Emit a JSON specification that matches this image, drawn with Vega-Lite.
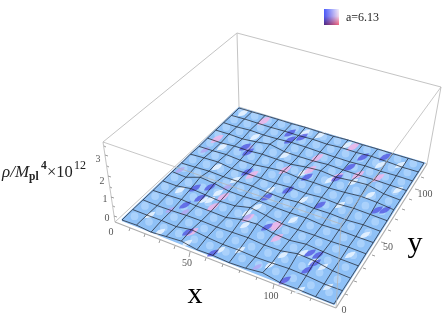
{
"$schema":"https://vega.github.io/schema/vega-lite/v6.json",
"width":443,"height":317,"padding":0,"autosize":"none","background":"white",
"config":{"view":{"stroke":null}},
"datasets":{
"frameBack":[{"u":115,"v":222,"u2":103,"v2":142},{"u":239,"v":107,"u2":237,"v2":33},{"u":427,"v":164,"u2":441,"v2":87},{"u":103,"v":142,"u2":237,"v2":33},{"u":237,"v":33,"u2":441,"v2":87},{"u":115,"v":222,"u2":239,"v2":107},{"u":239,"v":107,"u2":427,"v2":164}],
"frameFloor":[{"u":115,"v":222,"u2":336,"v2":308},{"u":336,"v":308,"u2":427,"v2":164}],
"frameFront":[{"u":103,"v":142,"u2":341,"v2":224},{"u":441,"v":87,"u2":341,"v2":224},{"u":341,"v":224,"u2":336,"v2":308}],
"ticks":[{"u":130,"v":228,"u2":129,"v2":231},{"u":145,"v":234,"u2":144,"v2":237},{"u":160,"v":240,"u2":159,"v2":243},{"u":175,"v":246,"u2":174,"v2":249},{"u":190,"v":252,"u2":189,"v2":257},{"u":206,"v":258,"u2":205,"v2":261},{"u":223,"v":264,"u2":222,"v2":267},{"u":240,"v":270,"u2":239,"v2":273},{"u":257,"v":277,"u2":256,"v2":280},{"u":274,"v":284,"u2":273,"v2":289},{"u":292,"v":291,"u2":291,"v2":294},{"u":311,"v":298,"u2":310,"v2":301},
{"u":345,"v":294,"u2":348,"v2":295},{"u":354,"v":281,"u2":357,"v2":282},{"u":363,"v":268,"u2":366,"v2":269},{"u":372,"v":255,"u2":375,"v2":256},{"u":381,"v":242,"u2":385,"v2":243},{"u":388,"v":230,"u2":391,"v2":231},{"u":395,"v":219,"u2":398,"v2":220},{"u":402,"v":209,"u2":405,"v2":210},{"u":409,"v":199,"u2":412,"v2":200},{"u":415,"v":189,"u2":419,"v2":190},{"u":421,"v":177,"u2":424,"v2":178},
{"u":114,"v":216,"u2":117,"v2":217},{"u":113,"v":206,"u2":115,"v2":207},{"u":111,"v":197,"u2":114,"v2":198},{"u":110,"v":187,"u2":112,"v2":188},{"u":108,"v":176,"u2":111,"v2":177},{"u":107,"v":166,"u2":109,"v2":167},{"u":105,"v":155,"u2":108,"v2":156},{"u":104,"v":146,"u2":106,"v2":147}],
"nodes":[
{"x":0,"y":0,"r":0.3},{"x":0,"y":10,"r":0.31},{"x":0,"y":20,"r":0.3},{"x":0,"y":30,"r":0.29},{"x":0,"y":40,"r":0.3},{"x":0,"y":50,"r":0.31},{"x":0,"y":60,"r":0.3},{"x":0,"y":70,"r":0.32},{"x":0,"y":80,"r":0.29},{"x":0,"y":90,"r":0.3},{"x":0,"y":100,"r":0.31},{"x":0,"y":110,"r":0.3},{"x":0,"y":120,"r":0.29},{"x":0,"y":130,"r":0.3},
{"x":10,"y":0,"r":0.33},{"x":10,"y":10,"r":0.31},{"x":10,"y":20,"r":0.28},{"x":10,"y":30,"r":0.32},{"x":10,"y":40,"r":0.3},{"x":10,"y":50,"r":0.27},{"x":10,"y":60,"r":0.33},{"x":10,"y":70,"r":0.36},{"x":10,"y":80,"r":0.3},{"x":10,"y":90,"r":0.28},{"x":10,"y":100,"r":0.32},{"x":10,"y":110,"r":0.29},{"x":10,"y":120,"r":0.31},{"x":10,"y":130,"r":0.3},
{"x":20,"y":0,"r":0.27},{"x":20,"y":10,"r":0.32},{"x":20,"y":20,"r":0.3},{"x":20,"y":30,"r":0.36},{"x":20,"y":40,"r":0.42},{"x":20,"y":50,"r":0.52},{"x":20,"y":60,"r":0.37},{"x":20,"y":70,"r":0.39},{"x":20,"y":80,"r":0.33},{"x":20,"y":90,"r":0.34},{"x":20,"y":100,"r":0.29},{"x":20,"y":110,"r":0.33},{"x":20,"y":120,"r":0.3},{"x":20,"y":130,"r":0.31},
{"x":30,"y":0,"r":0.35},{"x":30,"y":10,"r":0.3},{"x":30,"y":20,"r":0.34},{"x":30,"y":30,"r":0.31},{"x":30,"y":40,"r":0.37},{"x":30,"y":50,"r":0.46},{"x":30,"y":60,"r":0.34},{"x":30,"y":70,"r":0.3},{"x":30,"y":80,"r":0.28},{"x":30,"y":90,"r":0.33},{"x":30,"y":100,"r":0.36},{"x":30,"y":110,"r":0.3},{"x":30,"y":120,"r":0.29},{"x":30,"y":130,"r":0.31},
{"x":40,"y":0,"r":0.42},{"x":40,"y":10,"r":0.44},{"x":40,"y":20,"r":0.35},{"x":40,"y":30,"r":0.3},{"x":40,"y":40,"r":0.31},{"x":40,"y":50,"r":0.33},{"x":40,"y":60,"r":0.35},{"x":40,"y":70,"r":0.3},{"x":40,"y":80,"r":0.28},{"x":40,"y":90,"r":0.38},{"x":40,"y":100,"r":0.46},{"x":40,"y":110,"r":0.32},{"x":40,"y":120,"r":0.31},{"x":40,"y":130,"r":0.3},
{"x":50,"y":0,"r":0.3},{"x":50,"y":10,"r":0.36},{"x":50,"y":20,"r":0.33},{"x":50,"y":30,"r":0.28},{"x":50,"y":40,"r":0.35},{"x":50,"y":50,"r":0.32},{"x":50,"y":60,"r":0.37},{"x":50,"y":70,"r":0.3},{"x":50,"y":80,"r":0.37},{"x":50,"y":90,"r":0.36},{"x":50,"y":100,"r":0.32},{"x":50,"y":110,"r":0.36},{"x":50,"y":120,"r":0.3},{"x":50,"y":130,"r":0.32},
{"x":60,"y":0,"r":0.33},{"x":60,"y":10,"r":0.31},{"x":60,"y":20,"r":0.36},{"x":60,"y":30,"r":0.46},{"x":60,"y":40,"r":0.54},{"x":60,"y":50,"r":0.37},{"x":60,"y":60,"r":0.31},{"x":60,"y":70,"r":0.29},{"x":60,"y":80,"r":0.44},{"x":60,"y":90,"r":0.34},{"x":60,"y":100,"r":0.3},{"x":60,"y":110,"r":0.35},{"x":60,"y":120,"r":0.33},{"x":60,"y":130,"r":0.3},
{"x":70,"y":0,"r":0.29},{"x":70,"y":10,"r":0.33},{"x":70,"y":20,"r":0.39},{"x":70,"y":30,"r":0.52},{"x":70,"y":40,"r":0.43},{"x":70,"y":50,"r":0.33},{"x":70,"y":60,"r":0.28},{"x":70,"y":70,"r":0.34},{"x":70,"y":80,"r":0.36},{"x":70,"y":90,"r":0.44},{"x":70,"y":100,"r":0.31},{"x":70,"y":110,"r":0.32},{"x":70,"y":120,"r":0.3},{"x":70,"y":130,"r":0.29},
{"x":80,"y":0,"r":0.34},{"x":80,"y":10,"r":0.3},{"x":80,"y":20,"r":0.33},{"x":80,"y":30,"r":0.36},{"x":80,"y":40,"r":0.3},{"x":80,"y":50,"r":0.32},{"x":80,"y":60,"r":0.35},{"x":80,"y":70,"r":0.3},{"x":80,"y":80,"r":0.37},{"x":80,"y":90,"r":0.5},{"x":80,"y":100,"r":0.36},{"x":80,"y":110,"r":0.3},{"x":80,"y":120,"r":0.35},{"x":80,"y":130,"r":0.32},
{"x":90,"y":0,"r":0.45},{"x":90,"y":10,"r":0.33},{"x":90,"y":20,"r":0.35},{"x":90,"y":30,"r":0.31},{"x":90,"y":40,"r":0.29},{"x":90,"y":50,"r":0.35},{"x":90,"y":60,"r":0.31},{"x":90,"y":70,"r":0.36},{"x":90,"y":80,"r":0.35},{"x":90,"y":90,"r":0.42},{"x":90,"y":100,"r":0.33},{"x":90,"y":110,"r":0.29},{"x":90,"y":120,"r":0.33},{"x":90,"y":130,"r":0.3},
{"x":100,"y":0,"r":0.3},{"x":100,"y":10,"r":0.38},{"x":100,"y":20,"r":0.52},{"x":100,"y":30,"r":0.42},{"x":100,"y":40,"r":0.31},{"x":100,"y":50,"r":0.28},{"x":100,"y":60,"r":0.33},{"x":100,"y":70,"r":0.31},{"x":100,"y":80,"r":0.39},{"x":100,"y":90,"r":0.5},{"x":100,"y":100,"r":0.32},{"x":100,"y":110,"r":0.33},{"x":100,"y":120,"r":0.37},{"x":100,"y":130,"r":0.31},
{"x":110,"y":0,"r":0.32},{"x":110,"y":10,"r":0.36},{"x":110,"y":20,"r":0.48},{"x":110,"y":30,"r":0.36},{"x":110,"y":40,"r":0.3},{"x":110,"y":50,"r":0.32},{"x":110,"y":60,"r":0.29},{"x":110,"y":70,"r":0.36},{"x":110,"y":80,"r":0.46},{"x":110,"y":90,"r":0.55},{"x":110,"y":100,"r":0.33},{"x":110,"y":110,"r":0.3},{"x":110,"y":120,"r":0.34},{"x":110,"y":130,"r":0.3},
{"x":120,"y":0,"r":0.3},{"x":120,"y":10,"r":0.29},{"x":120,"y":20,"r":0.33},{"x":120,"y":30,"r":0.31},{"x":120,"y":40,"r":0.33},{"x":120,"y":50,"r":0.3},{"x":120,"y":60,"r":0.34},{"x":120,"y":70,"r":0.33},{"x":120,"y":80,"r":0.42},{"x":120,"y":90,"r":0.36},{"x":120,"y":100,"r":0.31},{"x":120,"y":110,"r":0.32},{"x":120,"y":120,"r":0.29},{"x":120,"y":130,"r":0.3},
{"x":130,"y":0,"r":0.3},{"x":130,"y":10,"r":0.31},{"x":130,"y":20,"r":0.3},{"x":130,"y":30,"r":0.3},{"x":130,"y":40,"r":0.31},{"x":130,"y":50,"r":0.3},{"x":130,"y":60,"r":0.31},{"x":130,"y":70,"r":0.3},{"x":130,"y":80,"r":0.33},{"x":130,"y":90,"r":0.31},{"x":130,"y":100,"r":0.3},{"x":130,"y":110,"r":0.31},{"x":130,"y":120,"r":0.3},{"x":130,"y":130,"r":0.3}],
"blobs":[
{"u":243,"v":113,"k":"w"},{"u":255,"v":137,"k":"w"},{"u":249,"v":148,"k":"l"},{"u":222,"v":147,"k":"w"},{"u":305,"v":133,"k":"w"},{"u":320,"v":135,"k":"w"},{"u":347,"v":145,"k":"w"},{"u":400,"v":165,"k":"w"},{"u":217,"v":167,"k":"w"},{"u":218,"v":193,"k":"w"},{"u":235,"v":180,"k":"w"},{"u":210,"v":200,"k":"w"},{"u":247,"v":213,"k":"w"},{"u":180,"v":190,"k":"w"},{"u":303,"v":173,"k":"w"},{"u":330,"v":180,"k":"w"},{"u":353,"v":182,"k":"w"},{"u":303,"v":200,"k":"w"},{"u":370,"v":195,"k":"w"},{"u":245,"v":225,"k":"w"},{"u":203,"v":200,"k":"w"},{"u":220,"v":250,"k":"w"},{"u":313,"v":262,"k":"w"},{"u":323,"v":267,"k":"w"},{"u":270,"v":265,"k":"w"},{"u":303,"v":253,"k":"w"},{"u":283,"v":255,"k":"w"},{"u":293,"v":220,"k":"w"},{"u":257,"v":207,"k":"w"},{"u":187,"v":243,"k":"w"},{"u":328,"v":287,"k":"w"},{"u":150,"v":215,"k":"w"},{"u":160,"v":232,"k":"w"},{"u":285,"v":155,"k":"w"},{"u":340,"v":205,"k":"w"},{"u":270,"v":190,"k":"w"},{"u":380,"v":165,"k":"w"},{"u":300,"v":290,"k":"w"},{"u":350,"v":255,"k":"w"},{"u":240,"v":250,"k":"w"},{"u":398,"v":190,"k":"w"},{"u":365,"v":235,"k":"w"},
{"u":264,"v":121,"k":"p"},{"u":217,"v":139,"k":"p"},{"u":205,"v":150,"k":"l"},{"u":252,"v":175,"k":"p"},{"u":180,"v":170,"k":"l"},{"u":223,"v":197,"k":"p"},{"u":227,"v":187,"k":"l"},{"u":248,"v":218,"k":"p"},{"u":275,"v":225,"k":"p"},{"u":170,"v":210,"k":"l"},{"u":185,"v":212,"k":"l"},{"u":317,"v":158,"k":"p"},{"u":310,"v":170,"k":"p"},{"u":285,"v":170,"k":"p"},{"u":337,"v":177,"k":"p"},{"u":358,"v":175,"k":"p"},{"u":378,"v":178,"k":"p"},{"u":353,"v":147,"k":"p"},{"u":192,"v":232,"k":"p"},{"u":277,"v":227,"k":"p"},{"u":277,"v":238,"k":"p"},{"u":247,"v":217,"k":"l"},{"u":213,"v":207,"k":"p"},{"u":283,"v":282,"k":"l"},{"u":257,"v":267,"k":"l"},
{"u":200,"v":198,"k":"d"},{"u":210,"v":187,"k":"d"},{"u":185,"v":205,"k":"d"},{"u":245,"v":147,"k":"d"},{"u":248,"v":152,"k":"d"},{"u":247,"v":172,"k":"d"},{"u":267,"v":197,"k":"d"},{"u":195,"v":188,"k":"d"},{"u":302,"v":137,"k":"d"},{"u":363,"v":157,"k":"d"},{"u":385,"v":210,"k":"d"},{"u":377,"v":210,"k":"d"},{"u":337,"v":178,"k":"d"},{"u":307,"v":177,"k":"d"},{"u":320,"v":205,"k":"d"},{"u":288,"v":190,"k":"d"},{"u":350,"v":167,"k":"d"},{"u":385,"v":157,"k":"d"},{"u":188,"v":232,"k":"d"},{"u":307,"v":270,"k":"d"},{"u":315,"v":263,"k":"d"},{"u":310,"v":253,"k":"d"},{"u":318,"v":255,"k":"d"},{"u":285,"v":280,"k":"d"},{"u":267,"v":227,"k":"d"},{"u":213,"v":253,"k":"d"},{"u":290,"v":133,"k":"d"},{"u":290,"v":140,"k":"d"}]
},
"encoding":{
"x":{"field":"u","type":"quantitative","scale":{"domain":[0,443],"nice":false,"zero":false},"axis":null},
"y":{"field":"v","type":"quantitative","scale":{"domain":[0,317],"reverse":true,"nice":false,"zero":false},"axis":null}
},
"layer":[
{"data":{"name":"frameBack"},"mark":{"type":"rule","stroke":"#c4c4c4","strokeWidth":1},"encoding":{"x2":{"field":"u2"},"y2":{"field":"v2"}}},
{"data":{"name":"frameFloor"},"mark":{"type":"rule","stroke":"#adadad","strokeWidth":1.2},"encoding":{"x2":{"field":"u2"},"y2":{"field":"v2"}}},
{"data":{"name":"ticks"},"mark":{"type":"rule","stroke":"#888888","strokeWidth":0.8},"encoding":{"x2":{"field":"u2"},"y2":{"field":"v2"}}},
{"data":{"values":[{"u":122,"v":220,"o":0},{"u":334,"v":304,"o":1},{"u":424,"v":163,"o":2},{"u":239,"v":108,"o":3},{"u":122,"v":220,"o":4}]},"mark":{"type":"line","fill":"#8fc1f7","stroke":"#8fc1f7"},"encoding":{"order":{"field":"o"}}},
{"data":{"name":"nodes"},"transform":[{"filter":"datum.x<130&&datum.y<130"},{"calculate":"(datum.x+5)/130","as":"s"},{"calculate":"(datum.y+5)/130","as":"t"},{"calculate":"1-0.12502*datum.s+0.20677*datum.t","as":"w"},{"calculate":"(170.24*datum.s+166.42*datum.t+122)/datum.w","as":"u"},{"calculate":"(45.99*datum.s-89.67*datum.t+220)/datum.w-1.5","as":"v"}],"mark":{"type":"point","filled":true,"shape":"circle","size":60,"color":"#bcdcfd","opacity":0.6,"strokeWidth":0}},
{"data":{"name":"blobs"},"mark":{"type":"point","filled":true,"shape":"M-1 .6Q-.6 -.6 1 -.6Q.6 .6 -1 .6Z","opacity":0.35,"strokeWidth":0},"encoding":{"color":{"field":"k","type":"nominal","legend":null,"scale":{"domain":["p","d","w","l"],"range":["#efb6e8","#5a62e4","#e8f4ff","#b3a8f2"]}},"size":{"field":"k","type":"nominal","legend":null,"scale":{"domain":["p","d","w","l"],"range":[170,90,150,130]}}}},
{"data":{"name":"blobs"},"mark":{"type":"point","filled":true,"shape":"M-1 .6Q-.6 -.6 1 -.6Q.6 .6 -1 .6Z","opacity":0.8,"strokeWidth":0},"encoding":{"color":{"field":"k","type":"nominal","legend":null,"scale":{"domain":["p","d","w","l"],"range":["#efb6e8","#4c55dc","#eef7ff","#b3a8f2"]}},"size":{"field":"k","type":"nominal","legend":null,"scale":{"domain":["p","d","w","l"],"range":[75,34,65,55]}}}},
{"data":{"name":"nodes"},"transform":[{"calculate":"datum.x/130","as":"s"},{"calculate":"datum.y/130","as":"t"},{"calculate":"1-0.12502*datum.s+0.20677*datum.t","as":"w"},{"calculate":"(170.24*datum.s+166.42*datum.t+122)/datum.w","as":"u"},{"calculate":"(45.99*datum.s-89.67*datum.t+220)/datum.w-20*(datum.r-0.3)","as":"v"}],"mark":{"type":"line","stroke":"#16161c","strokeWidth":0.8,"opacity":0.85},"encoding":{"detail":{"field":"x"},"order":{"field":"y"}}},
{"data":{"name":"nodes"},"transform":[{"calculate":"datum.x/130","as":"s"},{"calculate":"datum.y/130","as":"t"},{"calculate":"1-0.12502*datum.s+0.20677*datum.t","as":"w"},{"calculate":"(170.24*datum.s+166.42*datum.t+122)/datum.w","as":"u"},{"calculate":"(45.99*datum.s-89.67*datum.t+220)/datum.w-20*(datum.r-0.3)","as":"v"}],"mark":{"type":"line","stroke":"#16161c","strokeWidth":0.8,"opacity":0.85},"encoding":{"detail":{"field":"y"},"order":{"field":"x"}}},
{"data":{"name":"frameFront"},"mark":{"type":"rule","stroke":"#b4b4b4","strokeWidth":1,"opacity":0.75},"encoding":{"x2":{"field":"u2"},"y2":{"field":"v2"}}},
{"data":{"values":[{"t":"0","u":111,"v":232},{"t":"50","u":187,"v":263},{"t":"100","u":271,"v":296},{"t":"0","u":344,"v":310},{"t":"50","u":388,"v":247},{"t":"100","u":425,"v":194},{"t":"3","u":98,"v":159},{"t":"2","u":102,"v":181},{"t":"1","u":105,"v":199},{"t":"0","u":107,"v":218}]},"mark":{"type":"text","font":"Liberation Serif","fontSize":10,"color":"#555555","align":"center","baseline":"middle"},"encoding":{"text":{"field":"t"}}},
{"data":{"values":[{"t":"x","u":195,"v":303},{"t":"y","u":415,"v":252}]},"mark":{"type":"text","font":"Liberation Serif","fontSize":30,"color":"#000000","align":"center","baseline":"alphabetic"},"encoding":{"text":{"field":"t"}}},
{"data":{"values":[{"t":"ρ/M","u":2,"v":177}]},"mark":{"type":"text","font":"Liberation Serif","fontSize":17,"fontStyle":"italic","color":"#222222","align":"left","baseline":"alphabetic"},"encoding":{"text":{"field":"t"}}},
{"data":{"values":[{"t":"pl","u":29,"v":180},{"t":"4","u":41,"v":169}]},"mark":{"type":"text","font":"Liberation Serif","fontSize":11.5,"fontWeight":"bold","color":"#222222","align":"left","baseline":"alphabetic"},"encoding":{"text":{"field":"t"}}},
{"data":{"values":[{"t":"×10","u":47,"v":177}]},"mark":{"type":"text","font":"Liberation Serif","fontSize":16.5,"color":"#222222","align":"left","baseline":"alphabetic"},"encoding":{"text":{"field":"t"}}},
{"data":{"values":[{"t":"12","u":74,"v":169}]},"mark":{"type":"text","font":"Liberation Serif","fontSize":12,"color":"#222222","align":"left","baseline":"alphabetic"},"encoding":{"text":{"field":"t"}}},
{"data":{"values":[{"t":"a=6.13","u":346,"v":21}]},"mark":{"type":"text","font":"Liberation Serif","fontSize":12,"color":"#222222","align":"left","baseline":"alphabetic"},"encoding":{"text":{"field":"t"}}},
{"data":{"values":[{"u":324,"v":9,"u2":339,"v2":25}]},"mark":{"type":"rect","fill":{"gradient":"linear","x1":0,"y1":0,"x2":1,"y2":0,"stops":[{"offset":0,"color":"#4a5cff"},{"offset":1,"color":"#f4f0fa"}]}},"encoding":{"x2":{"field":"u2"},"y2":{"field":"v2"}}},
{"data":{"values":[{"u":324,"v":9,"u2":339,"v2":25}]},"mark":{"type":"rect","blend":"multiply","fill":{"gradient":"linear","x1":0,"y1":0,"x2":0,"y2":1,"stops":[{"offset":0,"color":"#ffffff"},{"offset":0.45,"color":"#ffe8f0"},{"offset":1,"color":"#ff6a80"}]}},"encoding":{"x2":{"field":"u2"},"y2":{"field":"v2"}}}
]
}
